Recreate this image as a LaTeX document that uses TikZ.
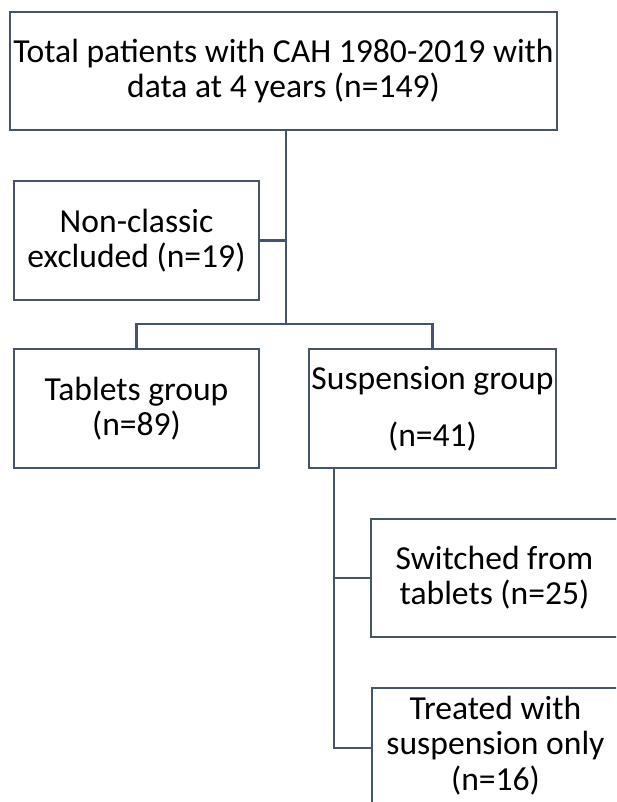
\documentclass[tikz,border=0pt]{standalone}
\usepackage{fontspec}
\setmainfont{Carlito}
\usetikzlibrary{calc}
\definecolor{linec}{HTML}{44546A}
\tikzset{
  box/.style={draw=linec, line width=2.5pt, fill=white, inner sep=0pt, align=center,
    font=\fontsize{33.6}{35}\selectfont},
  conn/.style={draw=linec, line width=2.5pt}
}
\begin{document}
\begin{tikzpicture}[x=1pt,y=-1pt]
\useasboundingbox (0,0) rectangle (616,802);
\fill[white] (0,0) rectangle (616,802);
\clip (0,0) rectangle (616,802);
\node[box, minimum width=547pt, minimum height=118pt] (b1) at (283.5,71) {Total patients with CAH 1980-2019 with\\data at 4 years (n=149)};
\node[box, minimum width=245pt, minimum height=119pt] (b2) at (136.5,240.5) {Non-classic\\excluded (n=19)};
\node[box, minimum width=245pt, minimum height=119pt] (b3) at (136.5,408.5) {Tablets group\\(n=89)};
\node[box, minimum width=247pt, minimum height=119pt] (b4) at (432.5,408.5) {Suspension group\\[22pt](n=41)};
\node[box, minimum width=247pt, minimum height=118pt] (b5) at (494.5,578) {Switched from\\tablets (n=25)};
\node[box, minimum width=247pt, minimum height=120pt] (b6) at (495.5,748) {\raisebox{3pt}{\begin{tabular}{@{}c@{}}Treated with\\suspension only\\(n=16)\end{tabular}}};
\coordinate (top) at ($(b1.south)+(2.5,0)$);
\coordinate (bus) at (top |- 0,324);
\coordinate (mid2) at (top |- b2.east);
\draw[conn] (top) -- (bus);
\draw[conn] (b2.east) -- (mid2);
\draw[conn] (b3.north) -- (b3.north |- bus) -- (b4.north |- bus) -- (b4.north);
\coordinate (s4) at ($(b4.south west)+(26,0)$);
\draw[conn] (s4) -- (s4 |- b6.west) -- (b6.west);
\draw[conn] (s4 |- b5.west) -- (b5.west);
\end{tikzpicture}
\end{document}
